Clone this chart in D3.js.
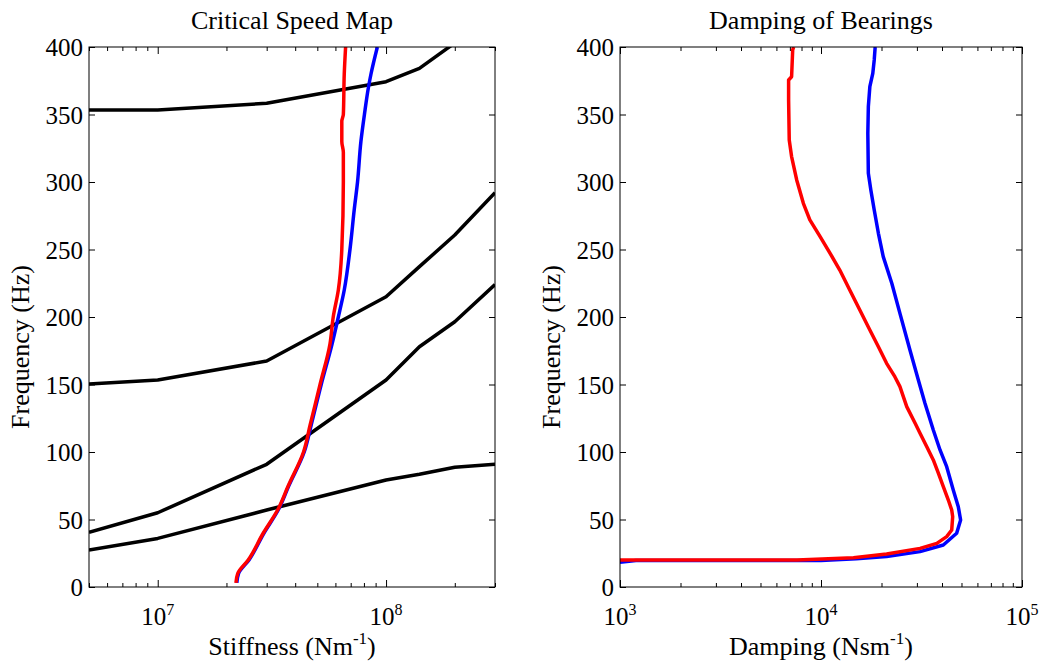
<!DOCTYPE html>
<html><head><meta charset="utf-8">
<script src="https://cdn.jsdelivr.net/npm/d3@7"></script>
<style>
body{margin:0;background:#fff}
svg text, svg tspan{font-family:"Liberation Serif","Times New Roman",serif !important;fill:#000}
</style>
</head><body>
<svg id="c" width="1047" height="668" font-family="Liberation Serif"></svg>
<script>
// ---------- data ----------
const freqTicks = [0, 50, 100, 150, 200, 250, 300, 350, 400];
const stiffMajorTicks = [1e7, 1e8];
const dampMajorTicks = [1e3, 1e4, 1e5];

// critical speed map: natural frequencies (Hz) versus bearing stiffness (N/m)
const modeStiffness = [5e6, 1e7, 3e7, 1e8, 1.4e8, 2e8, 3e8];
const mode1Freq = [27.4, 36, 57, 79.3, 83.5, 88.7, 90.9];
const mode2Freq = [40.5, 55, 90.9, 153.3, 178, 196.5, 224];
const mode3Freq = [150.4, 153.3, 167.4, 215, 237.3, 260.7, 292];
const mode4Freq = [353.3, 353.3, 358.3, 374.3, 384.2, 403, 440];

// bearing stiffness curves
const redStiffFreq = [3, 10, 20, 40, 57, 75, 100, 120, 150, 180, 200, 220, 250, 300, 322, 330, 345, 350, 380, 400];
const redStiffness = [2.20e7, 2.24e7, 2.49e7, 2.90e7, 3.35e7, 3.73e7, 4.35e7, 4.65e7, 5.14e7, 5.68e7, 5.87e7, 6.18e7, 6.40e7, 6.50e7, 6.50e7, 6.40e7, 6.40e7, 6.50e7, 6.56e7, 6.65e7];
const blueStiffFreq = [3, 10, 20, 40, 57, 75, 100, 120, 150, 180, 200, 220, 250, 280, 300, 330, 350, 370, 380, 400];
const blueStiffness = [2.22e7, 2.26e7, 2.51e7, 2.92e7, 3.37e7, 3.75e7, 4.38e7, 4.70e7, 5.20e7, 5.80e7, 6.18e7, 6.56e7, 6.95e7, 7.26e7, 7.50e7, 7.76e7, 8.04e7, 8.37e7, 8.59e7, 9.16e7];

// bearing damping curves
const redDampFreq = [20, 20, 21.7, 24.4, 28.6, 32.3, 37.3, 42.2, 52.1, 57, 64.4, 74.3, 84.2, 94.1, 103.9, 113.9, 121.3, 133.6, 148.4, 155.8, 165.7, 178, 190.4, 205.2, 220, 234.8, 247.2, 259.5, 271.9, 284.2, 301.5, 318.8, 331.1, 360.7, 375.6, 378, 397.8, 400];
const redDamping = [1e3, 7.6e3, 1.45e4, 2.12e4, 3.11e4, 3.77e4, 4.22e4, 4.47e4, 4.52e4, 4.47e4, 4.30e4, 4.06e4, 3.84e4, 3.62e4, 3.36e4, 3.11e4, 2.94e4, 2.67e4, 2.47e4, 2.33e4, 2.12e4, 1.93e4, 1.75e4, 1.56e4, 1.39e4, 1.24e4, 1.11e4, 9.9e3, 8.8e3, 8.17e3, 7.57e3, 7.14e3, 6.95e3, 6.90e3, 6.90e3, 7.14e3, 7.23e3, 7.31e3];
const blueDampFreq = [18.3, 19.6, 19.6, 21, 22.5, 26.2, 31.1, 39.8, 49.6, 59.5, 71.9, 89.1, 101.5, 116.3, 136.1, 153.3, 175.6, 184.2, 202.7, 225, 244.7, 262, 279.3, 294.1, 306.4, 336, 355.8, 370.6, 380.5, 390.4, 400];
const blueDamping = [1e3, 1.2e3, 1.0e4, 1.5e4, 2.12e4, 3.11e4, 4.06e4, 4.73e4, 4.95e4, 4.82e4, 4.55e4, 4.22e4, 3.91e4, 3.62e4, 3.29e4, 3.05e4, 2.77e4, 2.67e4, 2.47e4, 2.25e4, 2.04e4, 1.93e4, 1.84e4, 1.77e4, 1.72e4, 1.71e4, 1.72e4, 1.75e4, 1.81e4, 1.84e4, 1.86e4];

// ---------- drawing ----------
const svg = d3.select("#c");
svg.append("rect").attr("width", 1047).attr("height", 668).attr("fill", "#fff");

const plotTop = 47, plotBottom = 587;
const y = d3.scaleLinear().domain([0, 400]).range([plotBottom, plotTop]);
const SERIF = "Liberation Serif";

function logTicks(domain) {
  const out = [];
  const d0 = Math.floor(Math.log10(domain[0])), d1 = Math.ceil(Math.log10(domain[1]));
  for (let d = d0; d <= d1; d++) for (let m = 2; m <= 9; m++) {
    const v = m * Math.pow(10, d);
    if (v >= domain[0] * 0.999 && v <= domain[1] * 1.001) out.push(v);
  }
  return out;
}

function panel(id, left, right, domain, majors, title, xlabelMain, series, blackLines) {
  const x = d3.scaleLog().domain(domain).range([left, right]);
  const g = svg.append("g").attr("font-family", SERIF);
  const clipId = "clip" + id;
  svg.append("clipPath").attr("id", clipId).append("rect")
    .attr("x", left).attr("y", plotTop).attr("width", right - left).attr("height", plotBottom - plotTop);

  const minors = logTicks(domain);
  const styleAxis = sel => {
    sel.attr("font-family", SERIF);
    sel.select(".domain").remove();
    sel.selectAll("line").attr("stroke", "#000").attr("stroke-width", 1);
  };

  g.append("g").attr("transform", `translate(0,${plotBottom})`)
    .call(d3.axisBottom(x).tickValues(majors).tickSize(-7).tickFormat("")).call(styleAxis);
  g.append("g").attr("transform", `translate(0,${plotBottom})`)
    .call(d3.axisBottom(x).tickValues(minors).tickSize(-4).tickFormat("")).call(styleAxis);
  g.append("g").attr("transform", `translate(0,${plotTop})`)
    .call(d3.axisTop(x).tickValues(majors).tickSize(-7).tickFormat("")).call(styleAxis);
  g.append("g").attr("transform", `translate(0,${plotTop})`)
    .call(d3.axisTop(x).tickValues(minors).tickSize(-4).tickFormat("")).call(styleAxis);
  const ly = g.append("g").attr("transform", `translate(${left},0)`)
    .call(d3.axisLeft(y).tickValues(freqTicks).tickSize(-6).tickPadding(6).tickFormat(d3.format("d")))
    .call(styleAxis);
  ly.selectAll("text").attr("font-size", 25).attr("font-family", SERIF).attr("fill", "#000").attr("dy", "0.34em");
  g.append("g").attr("transform", `translate(${right},0)`)
    .call(d3.axisRight(y).tickValues(freqTicks).tickSize(-6).tickFormat("")).call(styleAxis);

  majors.forEach(v => {
    const t = g.append("text").attr("x", x(v)).attr("y", plotBottom + 38)
      .attr("text-anchor", "middle").attr("font-size", 25).attr("font-family", SERIF);
    t.append("tspan").text("10");
    t.append("tspan").attr("font-size", 16).attr("dy", -10).text(Math.round(Math.log10(v)));
  });

  const plot = g.append("g").attr("clip-path", `url(#${clipId})`);
  const line = d3.line().x(d => x(d[0])).y(d => y(d[1]));
  blackLines.forEach(fs => {
    plot.append("path").datum(modeStiffness.map((s, i) => [s, fs[i]]))
      .attr("d", line).attr("fill", "none").attr("stroke", "#000").attr("stroke-width", 3.5)
      .attr("stroke-linejoin", "round");
  });
  series.forEach(s => {
    const ln = d3.line().x(d => x(d[0])).y(d => y(d[1])).curve(s.smooth ? d3.curveMonotoneY : d3.curveLinear);
    plot.append("path").datum(s.vals.map((v, i) => [v, s.freq[i]]))
      .attr("d", ln).attr("fill", "none").attr("stroke", s.color).attr("stroke-width", 3.5)
      .attr("stroke-linejoin", "round");
  });

  g.append("rect").attr("x", left).attr("y", plotTop).attr("width", right - left).attr("height", plotBottom - plotTop)
    .attr("fill", "none").attr("stroke", "#000").attr("stroke-width", 1);

  const cx = (left + right) / 2;
  g.append("text").attr("x", cx).attr("y", 29).attr("text-anchor", "middle").attr("font-size", 26)
    .attr("font-family", SERIF).text(title);
  const xl = g.append("text").attr("x", cx).attr("y", 655).attr("text-anchor", "middle").attr("font-size", 26)
    .attr("font-family", SERIF);
  xl.append("tspan").text(xlabelMain + " (" + (id === "L" ? "Nm" : "Nsm"));
  xl.append("tspan").attr("font-size", 17).attr("dy", -11).text("-1");
  xl.append("tspan").attr("dy", 11).text(")");
  g.append("text").attr("transform", `translate(${left - 60},347) rotate(-90)`)
    .attr("text-anchor", "middle").attr("font-size", 26).attr("font-family", SERIF).text("Frequency (Hz)");
}

panel("L", 89, 495, [5e6, 3e8], stiffMajorTicks, "Critical Speed Map", "Stiffness",
  [{freq: blueStiffFreq, vals: blueStiffness, color: "#0000ff", smooth: true},
   {freq: redStiffFreq, vals: redStiffness, color: "#ff0000", smooth: true}],
  [mode1Freq, mode2Freq, mode3Freq, mode4Freq]);

panel("R", 620, 1022, [1e3, 1e5], dampMajorTicks, "Damping of Bearings", "Damping",
  [{freq: blueDampFreq, vals: blueDamping, color: "#0000ff", smooth: false},
   {freq: redDampFreq, vals: redDamping, color: "#ff0000", smooth: false}],
  []);
</script>
</body></html>
